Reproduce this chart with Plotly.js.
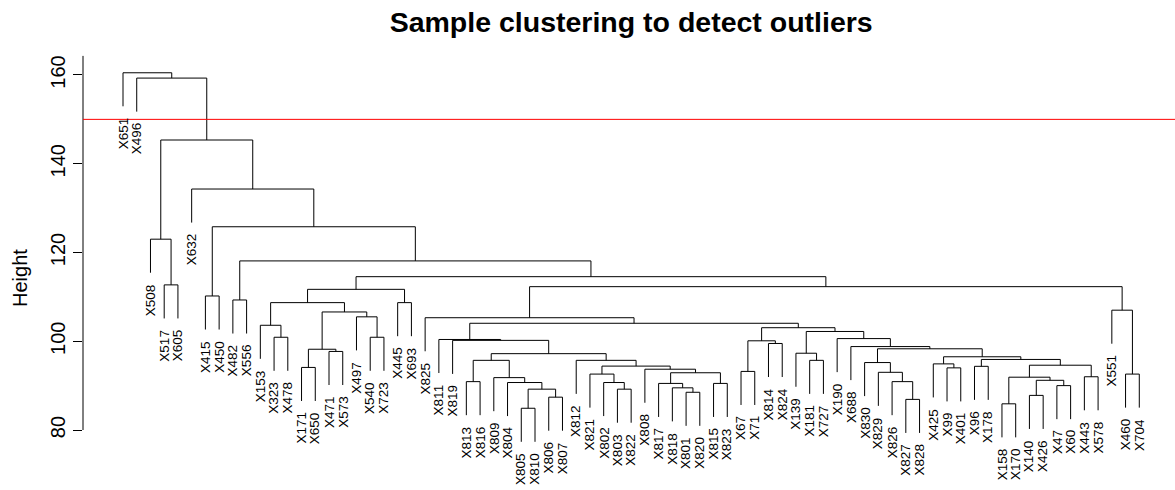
<!DOCTYPE html>
<html>
<head>
<meta charset="utf-8">
<script src="https://cdn.plot.ly/plotly-3.0.1.min.js"></script>
<style>html,body{margin:0;padding:0;background:#fff;}#chart{width:1175px;height:490px;}</style>
</head>
<body>
<div id="chart"></div>
<script>
// Leaf labels in dendrogram order
const leafLabels = ["X651","X496","X508","X517","X605","X632","X415","X450","X482","X556",
  "X153","X323","X478","X171","X650","X471","X573","X497","X540","X723",
  "X445","X693","X825","X811","X819","X813","X816","X809","X804","X805",
  "X810","X806","X807","X812","X821","X802","X803","X822","X808","X817",
  "X818","X801","X820","X815","X823","X67","X71","X814","X824","X139",
  "X181","X727","X190","X688","X830","X829","X826","X827","X828","X425",
  "X99","X401","X96","X178","X158","X170","X140","X426","X47","X60",
  "X443","X578","X551","X460","X704"];

// Merge structure (hclust style): negative = leaf position, positive = earlier merge number
const mergeA = [-30,-65,-58,-32,-67,-42,-37,1,-41,-69,-44,-40,-29,-36,-26,-57,5,-28,2,-71,
  -35,-74,12,-56,-46,-39,-61,-14,-63,21,19,-60,-55,15,-34,-51,29,32,34,-50,
  -16,28,33,-54,-48,25,-25,-24,-53,-12,-19,40,46,-11,48,-23,-18,42,-73,54,
  -21,-9,-7,60,56,-4,64,62,63,-3,-6,70,-2,-1];
const mergeB = [-31,-66,-59,-33,-68,-43,-38,4,6,-70,-45,9,8,7,-27,3,10,13,17,-72,
  14,-75,11,16,-47,23,-62,-15,-64,26,20,27,24,18,30,-52,31,37,35,36,
  -17,41,38,43,-49,45,39,47,44,-13,-20,49,52,50,53,55,51,57,22,58,
  -22,-10,-8,61,59,-5,65,67,68,66,69,71,72,73];
const mergeHeight = [84.9,85.9,86.9,87.4,87.8,88.5,89.2,89.2,89.5,90.0,90.5,90.5,90.7,90.7,90.9,90.9,91.2,91.8,91.9,92.0,
  92.6,92.6,92.9,93.0,93.2,93.7,94.0,94.1,94.35,94.4,94.6,94.9,95.2,95.7,95.7,95.7,95.9,96.5,97.2,97.3,
  97.7,98.2,98.3,98.8,99.5,100.1,100.2,100.4,100.6,100.9,100.9,102.2,103.05,103.6,104.05,105.3,105.5,106.6,107.0,108.7,
  108.7,109.3,110.2,111.7,112.3,112.7,114.55,118.1,125.8,123.0,134.3,145.35,159.3,160.5];

const cutHeight = 150;
const yTicks = [80,100,120,140,160];

// ---- build dendrogram geometry via the data ----
const hMax = Math.max(...mergeHeight), hMin = Math.min(...mergeHeight);
const hang = 0.1 * (hMax - hMin);
const nodeX = [], leafBottom = new Array(leafLabels.length).fill(null);
function childX(c){ return c < 0 ? -c : nodeX[c-1]; }
const lx = [], ly = [];
for (let k = 0; k < mergeHeight.length; k++) {
  const a = mergeA[k], b = mergeB[k], h = mergeHeight[k];
  const xa = childX(a), xb = childX(b);
  nodeX.push((xa + xb) / 2);
  const ya = a < 0 ? h - hang : mergeHeight[a-1];
  const yb = b < 0 ? h - hang : mergeHeight[b-1];
  if (a < 0) leafBottom[-a-1] = ya;
  if (b < 0) leafBottom[-b-1] = yb;
  lx.push(xa, xa, xb, xb, null);
  ly.push(ya, h, h, yb, null);
}

const font = "Liberation Sans, Arial, Helvetica, sans-serif";
const annotations = leafLabels.map((lab, i) => ({
  x: i + 1, y: leafBottom[i], xref: 'x', yref: 'y',
  text: lab, showarrow: false, textangle: -90,
  xanchor: 'center', yanchor: 'top', yshift: -9,
  font: {family: font, size: 13.5, color: '#000'}
}));
annotations.push({
  xref: 'paper', yref: 'paper', x: -0.0577, y: 0.4818,
  text: 'Height', showarrow: false, textangle: -90,
  xanchor: 'center', yanchor: 'middle',
  font: {family: font, size: 20, color: '#000'}
});

const trace = {
  x: lx, y: ly, type: 'scatter', mode: 'lines',
  line: {color: '#000', width: 1}, hoverinfo: 'skip', showlegend: false,
  connectgaps: false
};

const layout = {
  width: 1175, height: 490,
  margin: {l: 83, r: 0, t: 50, b: 0, pad: 0},
  paper_bgcolor: '#fff', plot_bgcolor: '#fff',
  title: {text: '<b>Sample clustering to detect outliers</b>',
    font: {family: font, size: 28.5, color: '#000'},
    x: 0.502, xref: 'paper', xanchor: 'center',
    y: 1 - 22.5/490, yref: 'container', yanchor: 'middle'},
  xaxis: {range: [-1.9125, 77.6], visible: false, fixedrange: true},
  yaxis: {range: [66.48, 165.63], tickvals: yTicks, ticktext: yTicks.map(String),
    ticks: 'outside', ticklen: 9, tickwidth: 1, tickcolor: '#000',
    tickangle: -90, tickfont: {family: font, size: 20, color: '#000'},
    showgrid: false, zeroline: false, showline: false, fixedrange: true},
  shapes: [
    {type: 'line', xref: 'paper', yref: 'y', x0: 0, x1: 0, y0: yTicks[0], y1: 164.3,
     line: {color: '#000', width: 1}},
    {type: 'line', xref: 'paper', yref: 'y', x0: 0, x1: 1, y0: cutHeight, y1: cutHeight,
     line: {color: '#ff0000', width: 1}}
  ],
  annotations: annotations
};

Plotly.newPlot('chart', [trace], layout, {displayModeBar: false, staticPlot: true});
</script>
</body>
</html>
